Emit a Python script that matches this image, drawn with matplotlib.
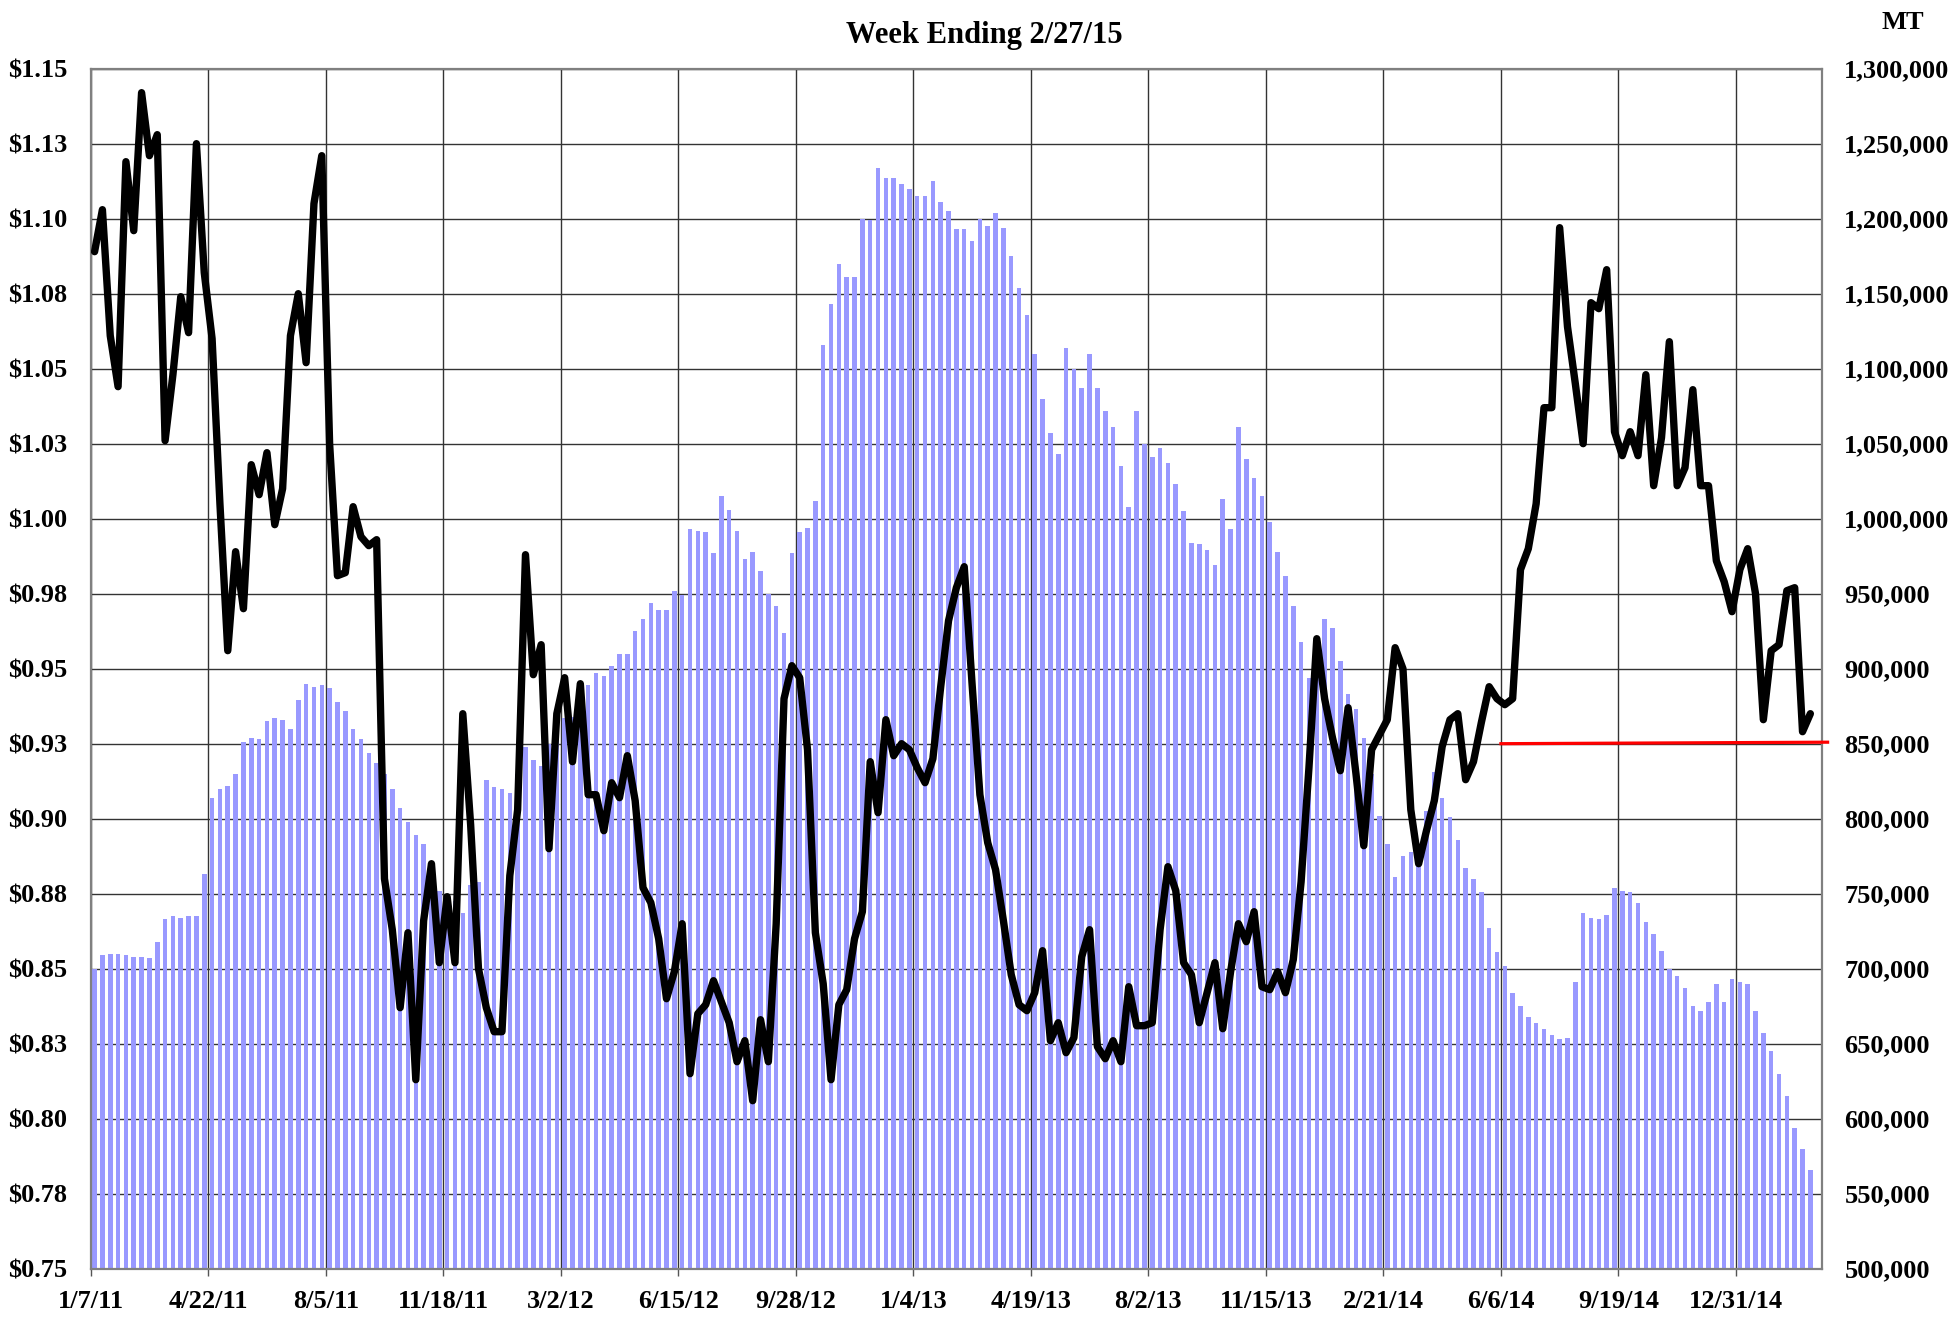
import matplotlib.pyplot as plt
import numpy as np

# weekly data, 1/7/11 .. 2/27/15
tick_labels = ['1/7/11', '4/22/11', '8/5/11', '11/18/11', '3/2/12', '6/15/12',
               '9/28/12', '1/4/13', '4/19/13', '8/2/13', '11/15/13', '2/21/14',
               '6/6/14', '9/19/14', '12/31/14']

# stocks, thousand MT (right axis)
stocks_k = [
    700, 709, 710, 710, 709, 708, 708, 707, 718, 733,
    735, 734, 735, 735, 763, 814, 820, 822, 830, 851,
    854, 853, 865, 867, 866, 860, 879, 890, 888, 889,
    887, 878, 872, 860, 853, 844, 837, 830, 820, 807,
    798, 789, 783, 770, 752, 748, 745, 737, 756, 758,
    826, 821, 820, 817, 830, 848, 839, 835, 850, 860,
    867, 868, 872, 889, 897, 895, 902, 910, 910, 925,
    933, 944, 939, 939, 952, 949, 993, 992, 991, 977,
    1015, 1006, 992, 973, 978, 965, 950, 942, 924, 977,
    991, 994, 1012, 1116, 1143, 1170, 1161, 1161, 1200, 1199,
    1234, 1227, 1227, 1223, 1220, 1215, 1215, 1225, 1211, 1205,
    1193, 1193, 1185, 1200, 1195, 1204, 1194, 1175, 1154, 1136,
    1110, 1080, 1057, 1043, 1114, 1100, 1087, 1110, 1087, 1072,
    1061, 1035, 1008, 1072, 1050, 1041, 1047, 1037, 1023, 1005,
    984, 983, 979, 969, 1013, 993, 1061, 1040, 1027, 1015,
    998, 978, 962, 942, 918, 894, 912, 933, 927, 905,
    883, 873, 854, 830, 802, 783, 761, 775, 778, 776,
    805, 831, 814, 801, 786, 767, 760, 751, 727, 711,
    702, 684, 675, 668, 664, 660, 656, 653, 654, 691,
    737, 734, 733, 736, 754, 752, 751, 744, 731, 723,
    712, 700, 695, 687, 675, 672, 678, 690, 678, 693,
    691, 690, 672, 657, 645, 630, 615, 594, 580, 566,
]

# price, $ (left axis)
price = [
    1.089, 1.103, 1.061, 1.044, 1.119, 1.096, 1.142, 1.121, 1.128, 1.026,
    1.048, 1.074, 1.062, 1.125, 1.082, 1.060, 1.005, 0.956, 0.989, 0.970,
    1.018, 1.008, 1.022, 0.998, 1.010, 1.061, 1.075, 1.052, 1.105, 1.121,
    1.025, 0.981, 0.982, 1.004, 0.994, 0.991, 0.993, 0.880, 0.863, 0.837,
    0.862, 0.813, 0.866, 0.885, 0.852, 0.874, 0.852, 0.935, 0.898, 0.850,
    0.837, 0.829, 0.829, 0.881, 0.903, 0.988, 0.948, 0.958, 0.890, 0.935,
    0.947, 0.919, 0.945, 0.908, 0.908, 0.896, 0.912, 0.907, 0.921, 0.906,
    0.877, 0.872, 0.860, 0.840, 0.849, 0.865, 0.815, 0.835, 0.838, 0.846,
    0.839, 0.832, 0.819, 0.826, 0.806, 0.833, 0.819, 0.865, 0.940, 0.951,
    0.947, 0.923, 0.862, 0.845, 0.813, 0.838, 0.843, 0.860, 0.869, 0.919,
    0.902, 0.933, 0.921, 0.925, 0.923, 0.917, 0.912, 0.920, 0.944, 0.966,
    0.977, 0.984, 0.945, 0.908, 0.892, 0.883, 0.866, 0.848, 0.838, 0.836,
    0.842, 0.856, 0.826, 0.832, 0.822, 0.827, 0.854, 0.863, 0.824, 0.820,
    0.826, 0.819, 0.844, 0.831, 0.831, 0.832, 0.863, 0.884, 0.876, 0.852,
    0.848, 0.832, 0.842, 0.852, 0.830, 0.849, 0.865, 0.859, 0.869, 0.844,
    0.843, 0.849, 0.842, 0.853, 0.879, 0.917, 0.960, 0.940, 0.927, 0.916,
    0.937, 0.915, 0.891, 0.923, 0.928, 0.933, 0.957, 0.950, 0.903, 0.885,
    0.896, 0.906, 0.924, 0.933, 0.935, 0.913, 0.919, 0.932, 0.944, 0.940,
    0.938, 0.940, 0.983, 0.990, 1.005, 1.037, 1.037, 1.097, 1.064, 1.045,
    1.025, 1.072, 1.070, 1.083, 1.029, 1.021, 1.029, 1.021, 1.048, 1.011,
    1.027, 1.059, 1.011, 1.017, 1.043, 1.011, 1.011, 0.986, 0.979, 0.969,
    0.983, 0.990, 0.975, 0.933, 0.956, 0.958, 0.976, 0.977, 0.929, 0.935,
]

price_ticks = [0.75, 0.775, 0.80, 0.825, 0.85, 0.875, 0.90, 0.925, 0.95,
               0.975, 1.00, 1.025, 1.05, 1.075, 1.10, 1.125, 1.15]
price_labels = ['$0.75', '$0.78', '$0.80', '$0.83', '$0.85', '$0.88', '$0.90',
                '$0.93', '$0.95', '$0.98', '$1.00', '$1.03', '$1.05', '$1.08',
                '$1.10', '$1.13', '$1.15']

# red reference level (MT) from 6/6/14 to the end
ref_x = [180, 221.7]
ref_level = [850000, 851000]

plt.rcParams['font.family'] = 'Liberation Serif'
plt.rcParams['font.weight'] = 'bold'

fig = plt.figure(figsize=(19.58, 13.18), dpi=100)
ax = fig.add_axes([0.0463, 0.0374, 0.8843, 0.9105])
ax2 = ax.twinx()

n = len(stocks_k)
x = np.arange(n) + 0.5
stocks = np.array(stocks_k) * 1000

ax.bar(x, stocks, width=0.58, color='#9999ff', zorder=2)
ax.set_ylim(500000, 1300000)
ax.set_xlim(0, 221)
ax.set_yticks(np.arange(500000, 1300001, 50000))
ax.set_yticklabels(['{:,}'.format(v) for v in range(500000, 1300001, 50000)])
ax.set_xticks(np.arange(0, 211, 15))
ax.set_xticklabels(tick_labels)
ax.set_axisbelow(True)
ax.grid(True, color='#333333', linewidth=1.0)
ax.tick_params(axis='x', labelsize=19, length=5, width=1, color='#555555', pad=10)
ax.tick_params(axis='y', labelsize=19, length=0, pad=16)
for s in ax.spines.values():
    s.set_color('#808080')
    s.set_linewidth(1.6)

ax.plot(ref_x, ref_level, color='#ff0000', linewidth=2.3, zorder=3, clip_on=False)

ax2.plot(x, price, color='black', linewidth=5.3, solid_joinstyle='round',
         solid_capstyle='round', zorder=4)
ax2.set_ylim(0.75, 1.15)
ax2.set_yticks(price_ticks)
ax2.set_yticklabels(price_labels)
ax2.tick_params(axis='y', labelsize=19, length=0, pad=17)
for s in ax2.spines.values():
    s.set_visible(False)

# put price on the left, tonnage on the right
ax.yaxis.tick_right()
ax2.yaxis.tick_left()

fig.text(0.5025, 0.973, 'Week Ending 2/27/15', ha='center', va='center',
         fontsize=22, fontweight='bold')
fig.text(0.972, 0.983, 'MT', ha='center', va='center', fontsize=19,
         fontweight='bold')

fig.savefig('out.png', dpi=100)
